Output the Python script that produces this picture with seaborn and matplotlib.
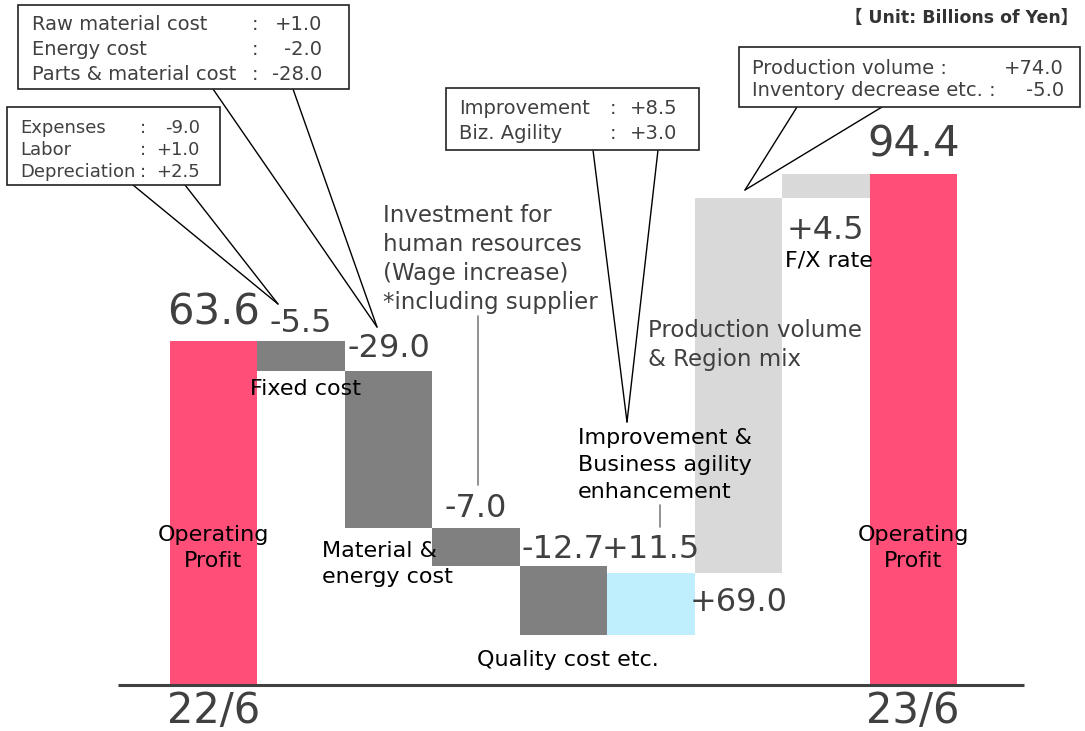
import numpy as np
import pandas as pd
import seaborn as sns
import matplotlib
matplotlib.use("Agg")
import matplotlib.pyplot as plt
from matplotlib.transforms import Affine2D
from matplotlib.patches import Rectangle

# ---------------- data ----------------
categories = ["22/6", "Fixed cost", "Material & energy cost", "Investment for human resources",
              "Quality cost etc.", "Improvement & Business agility",
              "Production volume & Region mix", "F/X rate", "23/6"]
values = [63.6, -5.5, -29.0, -7.0, -12.7, 11.5, 69.0, 4.5, 94.4]
is_total = [True, False, False, False, False, False, False, False, True]
value_labels = ["63.6", "-5.5", "-29.0", "-7.0", "-12.7", "+11.5", "+69.0", "+4.5", "94.4"]
period_labels = ["22/6", "23/6"]

box_fixed = [("Expenses", "-9.0"), ("Labor", "+1.0"), ("Depreciation", "+2.5")]
box_material = [("Raw material cost", "+1.0"), ("Energy cost", "-2.0"),
                ("Parts & material cost", "-28.0")]
box_improve = [("Improvement", "+8.5"), ("Biz. Agility", "+3.0")]
box_volume = [("Production volume :", "+74.0"), ("Inventory decrease etc. :", "-5.0")]

# ---------------- waterfall geometry from data ----------------
bottoms, heights = [], []
running = 0.0
for v, tot in zip(values, is_total):
    if tot:
        bottoms.append(0.0)
        heights.append(v)
        running = v
    else:
        new = running + v
        bottoms.append(min(running, new))
        heights.append(abs(v))
        running = new
bottoms = np.array(bottoms)
heights = np.array(heights)
tops = bottoms + heights

colors = ["#FF4F78", "#808080", "#808080", "#808080", "#808080",
          "#BFEFFC", "#D9D9D9", "#D9D9D9", "#FF4F78"]

# ---------------- figure ----------------
sns.set_theme(style="white")
plt.rcParams['font.family'] = ['DejaVu Sans', 'Noto Sans CJK JP']

W, H = 1085, 731
fig = plt.figure(figsize=(W / 100, H / 100), dpi=100)
ax = fig.add_axes([0, 0, 1, 1])

df = pd.DataFrame({"cat": categories, "h": heights})
sns.barplot(data=df, x="cat", y="h", bottom=bottoms, color="#808080", saturation=1,
            errorbar=None, width=1.0, linewidth=0, ax=ax)
for p, c in zip(ax.patches, colors):
    p.set_facecolor(c)
    p.set_edgecolor("none")

# scale: bar unit width ~87.4px, 1 value unit ~5.425px, baseline at y=686px
U, S = 87.44, 5.425
x0px, basepx = 170, 686
ax.set_xlim(-0.5 - x0px / U, -0.5 + (W - x0px) / U)
ax.set_ylim(-(H - basepx) / S, basepx / S)
ax.axis("off")

PX = Affine2D().scale(1, -1).translate(0, H)  # pixel coords, origin top-left

DARK = "#404040"
LS = 1.42

# baseline
ax.plot([118, 1024], [685, 685], color=DARK, lw=2.2, transform=PX, solid_capstyle="butt")

# value labels
offsets_px = [16, 9, 14, 11, 8, 15, -14, -17, 17]
for i, (lab, off) in enumerate(zip(value_labels, offsets_px)):
    fs = 30 if is_total[i] else 23
    if off > 0:
        ax.text(i, tops[i] + off / S, lab, ha="center", va="baseline", fontsize=fs, color=DARK)
    else:
        ax.text(i, bottoms[i] + off / S, lab, ha="center", va="top", fontsize=fs, color=DARK)

# period labels below the baseline
for i, lab in zip([0, len(values) - 1], period_labels):
    ax.text(i, -4.0 / S, lab, ha="center", va="top", fontsize=30, color=DARK)

# category labels
ax.text(213, 548, "Operating\nProfit", transform=PX, ha="center", va="center",
        fontsize=16, color="black", linespacing=1.32)
ax.text(913, 548, "Operating\nProfit", transform=PX, ha="center", va="center",
        fontsize=16, color="black", linespacing=1.32)
ax.text(306, 389, "Fixed cost", transform=PX, ha="center", va="center", fontsize=16, color="black")
ax.text(322, 564, "Material &\nenergy cost", transform=PX, ha="left", va="center",
        fontsize=16, color="black", linespacing=LS)
ax.text(568, 660, "Quality cost etc.", transform=PX, ha="center", va="center",
        fontsize=16, color="black")
ax.text(578, 465, "Improvement &\nBusiness agility\nenhancement", transform=PX, ha="left",
        va="center", fontsize=16, color="black", linespacing=LS)
ax.text(829, 260, "F/X rate", transform=PX, ha="center", va="center", fontsize=16, color="black")
ax.text(383, 259, "Investment for\nhuman resources\n(Wage increase)\n*including supplier",
        transform=PX, ha="left", va="center", fontsize=16.5, color=DARK, linespacing=1.32)
ax.text(648, 345, "Production volume\n& Region mix", transform=PX, ha="left", va="center",
        fontsize=16.5, color=DARK, linespacing=1.33)

# thin grey leaders
ax.plot([478, 478], [316, 485], color="#7F7F7F", lw=1.2, transform=PX)
ax.plot([660, 660], [505, 527], color="#7F7F7F", lw=1.2, transform=PX)

# unit
ax.text(1078, 18, "【 Unit: Billions of Yen】", transform=PX, ha="right", va="center",
        fontsize=12.5, fontweight="bold", color="#333333")


def callout(rect, legs, tip, rows, fs, label_x, colon_x, value_x, baselines):
    l, t, r, b = rect
    for lx in legs:
        ax.plot([lx, tip[0]], [b, tip[1]], color="black", lw=1.0, transform=PX)
    ax.add_patch(Rectangle((l, t), r - l, b - t, transform=PX, facecolor="white",
                           edgecolor="#222222", lw=1.2, zorder=3))
    for (name, val), yb in zip(rows, baselines):
        ax.text(label_x, yb, name, transform=PX, ha="left", va="baseline", fontsize=fs,
                color=DARK, zorder=4)
        if colon_x is not None:
            ax.text(colon_x, yb, ":", transform=PX, ha="center", va="baseline", fontsize=fs,
                    color=DARK, zorder=4)
        ax.text(value_x, yb, val, transform=PX, ha="right", va="baseline", fontsize=fs,
                color=DARK, zorder=4)


callout((18, 5, 349, 89), [213, 293], (377, 327), box_material, 14, 32, 255, 322, [30, 55, 80])
callout((7, 107, 220, 185), [133, 185], (278, 304), box_fixed, 13, 20, 143, 200, [133, 155, 177])
callout((446, 88, 699, 150), [593, 658], (627, 422), box_improve, 14, 459, 613, 677, [114, 139])
callout((739, 47, 1080, 107), [797, 882], (745, 190), box_volume, 14, 752, None, 1064, [74, 96])

fig.savefig("out.png", dpi=100, facecolor="white")
